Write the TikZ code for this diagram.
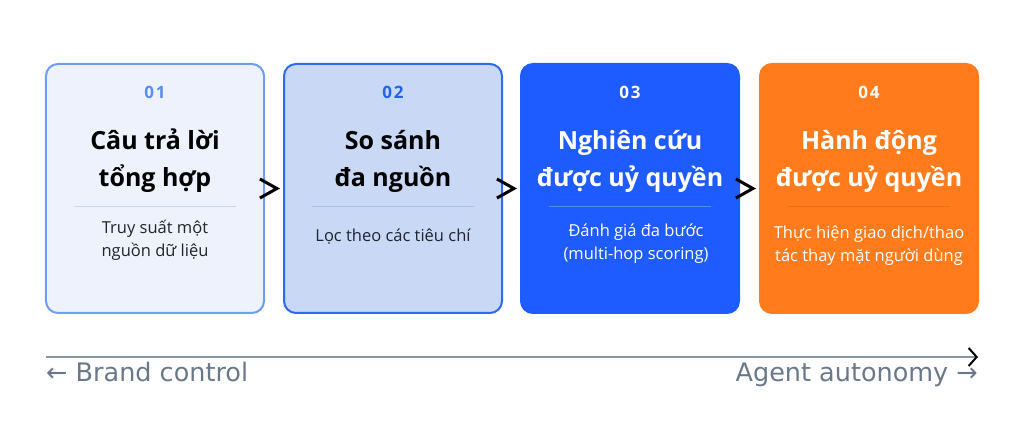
\documentclass[tikz,border=0pt]{standalone}
\usepackage{fontspec}
\setmainfont{Open Sans}
\newfontfamily\axisfont{DejaVu Sans}
\usepackage{tikz}
\usetikzlibrary{positioning}
\usetikzlibrary{arrows.meta}
\usetikzlibrary{calc}
\definecolor{fillone}{HTML}{EEF2FD}
\definecolor{drawone}{HTML}{6E9DF2}
\definecolor{numone}{HTML}{5B8DEF}
\definecolor{sepone}{HTML}{C9D6F0}
\definecolor{filltwo}{HTML}{C8D8F5}
\definecolor{drawtwo}{HTML}{2F6AEE}
\definecolor{numtwo}{HTML}{2563EB}
\definecolor{septwo}{HTML}{A9C0EC}
\definecolor{fillthree}{HTML}{1F5CFF}
\definecolor{septhree}{HTML}{5A86F2}
\definecolor{fillfour}{HTML}{FF7B1C}
\definecolor{sepfour}{HTML}{E27018}
\definecolor{bodytext}{HTML}{1F2430}
\definecolor{axisline}{HTML}{8A94A2}
\definecolor{axistext}{HTML}{6B7889}
\tikzstyle{box}=[shape=rectangle,rounded corners=12bp,minimum width=218bp,minimum height=249bp,line width=2bp]
\tikzstyle{numtext}=[font=\bfseries\addfontfeatures{LetterSpace=10}\fontsize{17bp}{18bp}\selectfont]
\tikzstyle{titletext}=[align=center,font=\bfseries\fontsize{25bp}{37bp}\selectfont]
\tikzstyle{subtext}=[align=center,font=\fontsize{16.5bp}{23bp}\selectfont]
\tikzstyle{sepline}=[line width=1bp]
\tikzstyle{chev}=[white,line width=0.2bp,shorten >=3bp,-{Straight Barb[black,length=17bp,width=19bp,line width=3bp]}]
\tikzstyle{axis}=[axisline,line width=2bp,-{Straight Barb[black,length=8bp,width=18bp,line width=2bp]}]
\tikzstyle{axlabel}=[axistext,inner sep=0pt,font=\axisfont\fontsize{25.5bp}{30bp}\selectfont]
\begin{document}
\begin{tikzpicture}[x=1bp,y=-1bp]
	\useasboundingbox (0,0) rectangle (1024,434);

	% Step 1
	\begin{scope}[xshift = 46bp]
	\node[box,fill=fillone,draw=drawone] (b1) at (109, 188.5) {};
	\node[numtext,text=numone] (n1) at (109, 92) {01};
	\node[titletext,text=black] (t1) at (109, 161) {Câu trả lời\\tổng hợp};
	\draw[sepline,sepone] (28, 207) -- (190, 207);
	\node[subtext,text=bodytext] (s1) at (109, 240) {Truy suất một\\nguồn dữ liệu};
	\end{scope}

	% Step 2
	\begin{scope}[xshift = 284bp]
	\node[box,fill=filltwo,draw=drawtwo] (b2) at (109, 188.5) {};
	\node[numtext,text=numtwo] (n2) at (109, 92) {02};
	\node[titletext,text=black] (t2) at (109, 161) {So sánh\\đa nguồn};
	\draw[sepline,septwo] (28, 207) -- (190, 207);
	\node[subtext,text=bodytext] (s2) at (109, 237) {Lọc theo các tiêu chí};
	\end{scope}

	% Step 3
	\begin{scope}[xshift = 521bp]
	\node[box,fill=fillthree,draw=fillthree] (b3) at (109, 188.5) {};
	\node[numtext,text=white] (n3) at (109, 92) {03};
	\node[titletext,text=white] (t3) at (109, 161) {Nghiên cứu\\được uỷ quyền};
	\draw[sepline,septhree] (28, 207) -- (190, 207);
	\node[subtext,text=white] (s3) at (115, 244) {Đánh giá đa bước\\(multi-hop scoring)};
	\end{scope}

	% Step 4
	\begin{scope}[xshift = 760bp]
	\node[box,fill=fillfour,draw=fillfour] (b4) at (109, 188.5) {};
	\node[numtext,text=white] (n4) at (109, 92) {04};
	\node[titletext,text=white] (t4) at (109, 161) {Hành động\\được uỷ quyền};
	\draw[sepline,sepfour] (28, 207) -- (190, 207);
	\node[subtext,text=white] (s4) at (109, 246) {Thực hiện giao dịch/thao\\tác thay mặt người dùng};
	\end{scope}

	% Chevrons
	\draw[chev] (b1.east) -- (b2.west);
	\draw[chev] (b2.east) -- (b3.west);
	\draw[chev] (b3.east) -- (b4.west);

	% Axis
	\coordinate (axl) at (46, 357);
	\coordinate (axr) at (978, 357);
	\draw[axis] (axl) -- (axr);
	\node[axlabel,anchor=base west] (brand) at ($(axl) + (0, 25)$) {← Brand control};
	\node[axlabel,anchor=base east] (agent) at ($(axr) + (0, 25)$) {Agent autonomy →};

\end{tikzpicture}
\end{document}
